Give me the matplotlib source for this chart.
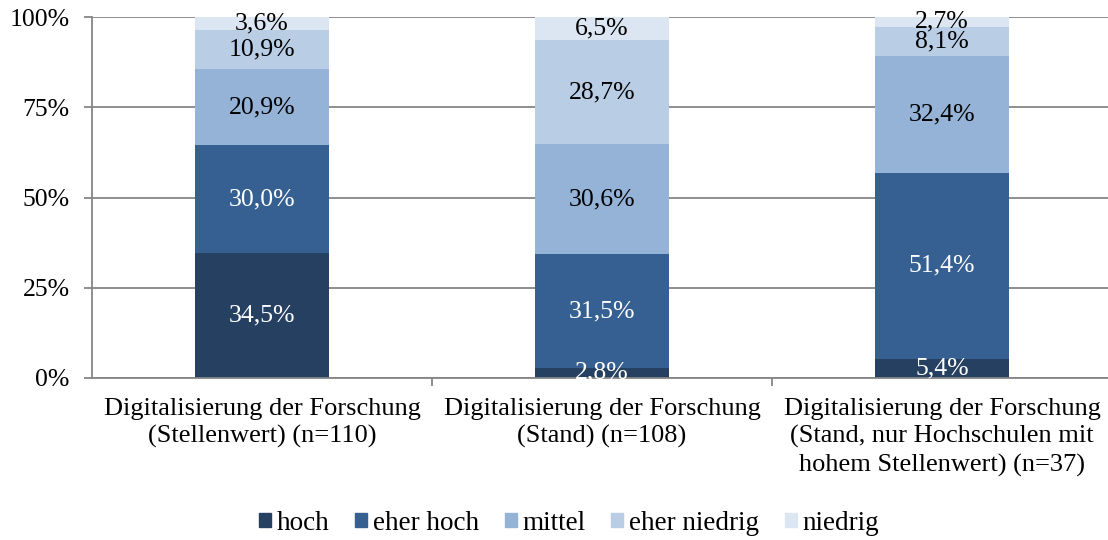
import matplotlib
matplotlib.use("Agg")
import matplotlib.pyplot as plt
import matplotlib.patches as mpatches
import numpy as np

# ── Data ──────────────────────────────────────────────────────────────────────
categories = [
    "Digitalisierung der Forschung\n(Stellenwert) (n=110)",
    "Digitalisierung der Forschung\n(Stand) (n=108)",
    "Digitalisierung der Forschung\n(Stand, nur Hochschulen mit\nhohem Stellenwert) (n=37)",
]
series_names = ["hoch", "eher hoch", "mittel", "eher niedrig", "niedrig"]
hoch = [34.5, 2.8, 5.4]
eher_hoch = [30.0, 31.5, 51.4]
mittel = [20.9, 30.6, 32.4]
eher_niedrig = [10.9, 28.7, 8.1]
niedrig = [3.6, 6.5, 2.7]
y_ticks = [0, 25, 50, 75, 100]

# ── Style ─────────────────────────────────────────────────────────────────────
COLOURS = ["#254061", "#376092", "#95B3D7", "#B9CDE5", "#DCE6F2"]
TEXT_COLOURS = ["white", "white", "black", "black", "black"]
GRID = "#868686"
FONT = "Liberation Serif"
FS = 18.5
plt.rcParams["font.family"] = [FONT, "DejaVu Serif"]

series = np.array([hoch, eher_hoch, mittel, eher_niedrig, niedrig])
shares = series / series.sum(axis=0) * 100   # 100 % stacked

fig = plt.figure(figsize=(11.08, 5.4), dpi=100)
ax = fig.add_axes([92 / 1108, 162 / 540, 1020 / 1108, 361 / 540])

x = np.arange(len(categories))
bottom = np.zeros(len(categories))
for vals, raw, name, col, tcol in zip(shares, series, series_names, COLOURS, TEXT_COLOURS):
    ax.bar(x, vals, bottom=bottom, width=0.397, color=col, label=name, zorder=2)
    for xi, b, v, r in zip(x, bottom, vals, raw):
        ax.text(xi, b + v / 2, f"{r:.1f}%".replace(".", ","), ha="center", va="center",
                color=tcol, fontsize=FS, zorder=3)
    bottom += vals

ax.set_xlim(-0.5, 2.5)
ax.set_ylim(0, 100)
ax.set_yticks(y_ticks)
ax.set_yticklabels([f"{t}%" for t in y_ticks], fontsize=FS)
ax.yaxis.grid(True, color=GRID, linewidth=1.3, zorder=0)
ax.tick_params(axis="y", length=6, width=1.3, color=GRID, pad=10)

ax.set_xticks([0.5, 1.5])
ax.set_xticklabels([])
ax.tick_params(axis="x", length=6, width=1.3, color=GRID)
for xi, lab in zip(x, categories):
    ax.text(xi, -0.055, lab, transform=ax.get_xaxis_transform(), ha="center", va="top",
            fontsize=19, linespacing=1.3)

for side in ["top", "right"]:
    ax.spines[side].set_visible(False)
for side in ["left", "bottom"]:
    ax.spines[side].set_color(GRID)
    ax.spines[side].set_linewidth(1.3)

handles = [mpatches.Patch(color=c, label=n) for c, n in zip(COLOURS, series_names)]
fig.legend(handles=handles, loc="center", bbox_to_anchor=(0.5135, 0.031), ncol=5,
           frameon=False, fontsize=19.5, handlelength=0.45, handleheight=0.45,
           handletextpad=0.2, columnspacing=0.95)

fig.savefig("out.png", dpi=100)
